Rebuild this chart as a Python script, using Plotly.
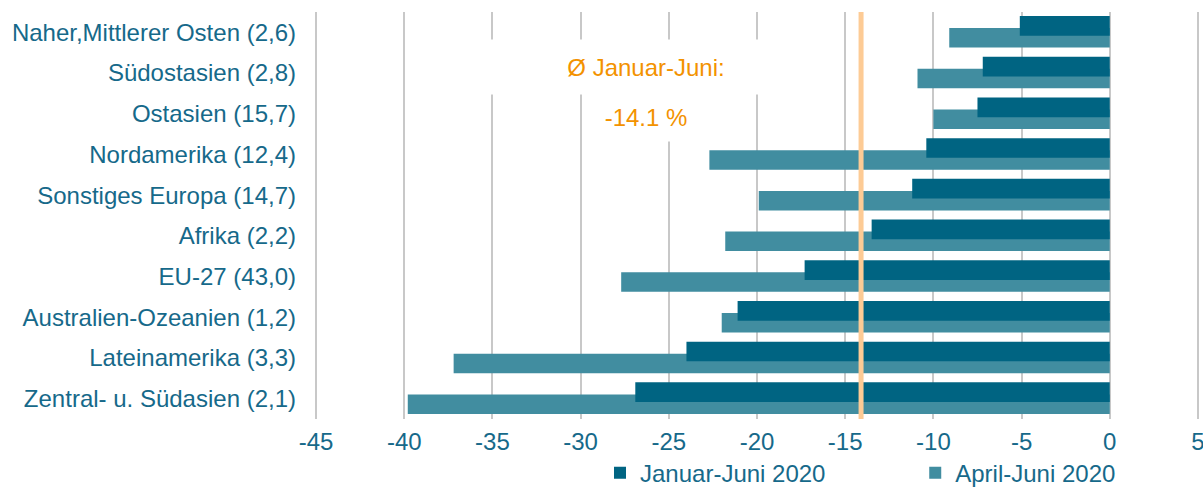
import plotly.graph_objects as go

categories = [
    "Naher,Mittlerer Osten (2,6)",
    "Südostasien (2,8)",
    "Ostasien (15,7)",
    "Nordamerika (12,4)",
    "Sonstiges Europa (14,7)",
    "Afrika (2,2)",
    "EU-27 (43,0)",
    "Australien-Ozeanien (1,2)",
    "Lateinamerika (3,3)",
    "Zentral- u. Südasien (2,1)",
]
jan_jun = [-5.1, -7.2, -7.5, -10.4, -11.2, -13.5, -17.3, -21.1, -24.0, -26.9]
apr_jun = [-9.1, -10.9, -10.0, -22.7, -19.9, -21.8, -27.7, -22.0, -37.2, -39.8]
avg_jan_jun = -14.1
x_ticks = [-45, -40, -35, -30, -25, -20, -15, -10, -5, 0, 5]
x_tick_labels = ["-45", "-40", "-35", "-30", "-25", "-20", "-15", "-10", "-5", "0", "5"]

DARK = "#006482"
LIGHT = "#418DA0"
TEXT = "#16698A"
ORANGE = "#F39200"
FONT = "Liberation Sans, Arial, sans-serif"
FS = 24

fig = go.Figure()
fig.add_trace(go.Bar(
    y=categories, x=apr_jun, orientation="h", name="April-Juni 2020",
    marker=dict(color=LIGHT, line=dict(width=0)),
    offset=-0.105, width=0.48, legend="legend2",
))
fig.add_trace(go.Bar(
    y=categories, x=jan_jun, orientation="h", name="Januar-Juni 2020",
    marker=dict(color=DARK, line=dict(width=0)),
    offset=-0.40, width=0.484, legend="legend",
))

fig.add_shape(type="line", xref="x", yref="paper", x0=avg_jan_jun, x1=avg_jan_jun,
              y0=0, y1=1, line=dict(color="#FDCB95", width=5), layer="above")

fig.add_annotation(xref="x", yref="paper", x=-26.3, y=0.866,
                   xanchor="center", yanchor="middle",
                   text="Ø Januar-Juni:", showarrow=False,
                   font=dict(family=FONT, size=FS, color=ORANGE),
                   bgcolor="white", width=320, height=52)
fig.add_annotation(xref="x", yref="paper", x=-26.3, y=0.743,
                   xanchor="center", yanchor="middle",
                   text="-14.1 %", showarrow=False,
                   font=dict(family=FONT, size=FS, color=ORANGE),
                   bgcolor="white", width=116, height=46)

legend_common = dict(orientation="h", yanchor="middle", y=-0.133, xanchor="left",
                     font=dict(family=FONT, size=FS, color=TEXT),
                     itemwidth=30, bgcolor="rgba(0,0,0,0)", borderwidth=0)

fig.update_layout(
    width=1203, height=487,
    barmode="overlay",
    plot_bgcolor="white", paper_bgcolor="white",
    margin=dict(l=315, r=4, t=12, b=68, autoexpand=False),
    font=dict(family=FONT, size=FS, color=TEXT),
    showlegend=True,
    legend=dict(x=0.3224, **legend_common),
    legend2=dict(x=0.679, **legend_common),
)
fig.update_xaxes(range=[-45.06, 5.06], tickvals=x_ticks, ticktext=x_tick_labels,
                 showgrid=True, gridcolor="#C8C8C8", gridwidth=1.5,
                 zeroline=False, showline=False, automargin=False,
                 ticklabeloverflow="allow",
                 tickfont=dict(family=FONT, size=FS, color=TEXT), ticklabelstandoff=6)
fig.update_yaxes(categoryorder="array", categoryarray=categories, autorange="reversed",
                 showgrid=False, zeroline=False, showline=False, automargin=False,
                 tickfont=dict(family=FONT, size=FS, color=TEXT), ticklabelstandoff=18)

fig.write_html("out.html",
               config={"displayModeBar": False},
               post_script="document.body.style.margin='0';document.body.style.overflow='hidden';")
